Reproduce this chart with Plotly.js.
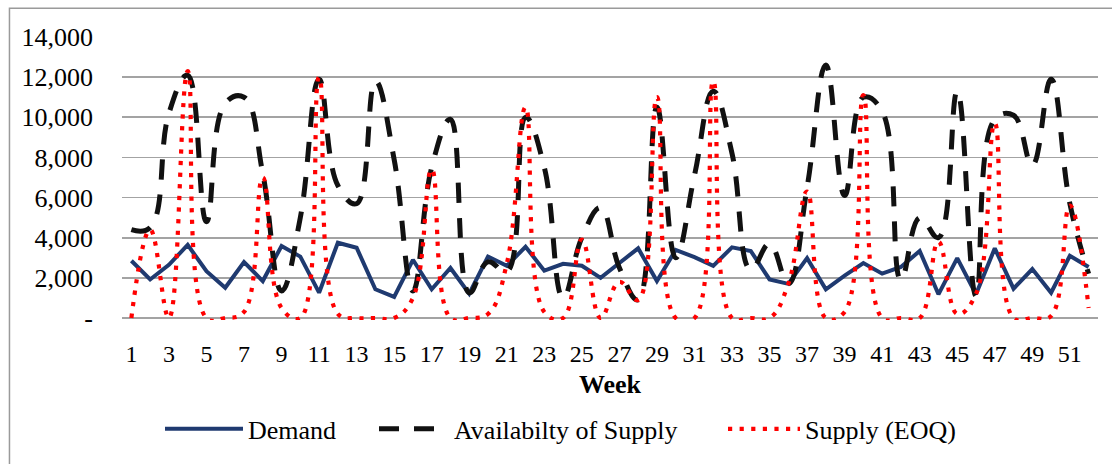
<!DOCTYPE html>
<html>
<head>
<meta charset="utf-8">
<script src="https://cdn.plot.ly/plotly-3.0.1.min.js"></script>
<style>
  html, body { margin: 0; padding: 0; background: #ffffff; }
  #chart { width: 1112px; height: 464px; }
</style>
</head>
<body>
<div id="chart"></div>
<script>
// Weekly demand vs. supply availability vs. EOQ supply
const weeks = [1, 2, 3, 4, 5, 6, 7, 8, 9, 10, 11, 12, 13, 14, 15, 16, 17, 18, 19, 20,
  21, 22, 23, 24, 25, 26, 27, 28, 29, 30, 31, 32, 33, 34, 35, 36, 37, 38, 39, 40,
  41, 42, 43, 44, 45, 46, 47, 48, 49, 50, 51, 52];

const demand = [2850, 1920, 2650, 3640, 2330, 1510, 2790, 1840, 3590, 3060,
  1260, 3750, 3500, 1430, 1050, 2900, 1430, 2490, 1210, 3060,
  2600, 3550, 2360, 2700, 2600, 2000, 2740, 3470, 1840, 3390,
  3030, 2600, 3520, 3340, 1920, 1700, 2980, 1430, 2110, 2740,
  2210, 2540, 3340, 1180, 2980, 1180, 3470, 1460, 2440, 1260,
  3100, 2540];

const availability = [4400, 4500, 10200, 12100, 4800, 10700, 11000, 7200, 1350, 5000,
  11900, 6600, 5700, 11800, 7900, 1350, 7500, 9900, 1260, 2800,
  2300, 10000, 7500, 1000, 4000, 5500, 2500, 900, 10500, 3000,
  7100, 11300, 8200, 2400, 3700, 1700, 6500, 12600, 6100, 11000,
  10300, 1900, 5000, 4000, 11300, 1100, 9900, 10100, 7600, 11900,
  5700, 2200];

const supplyEOQ = [0, 4400, 0, 12300, 0, 0, 300, 7000, 500, 0,
  12000, 200, 0, 0, 0, 1000, 7400, 0, 0, 200,
  2700, 10500, 300, 0, 3900, 0, 1800, 900, 11000, 0,
  0, 11800, 0, 0, 0, 1700, 6300, 0, 300, 11100,
  0, 0, 0, 3800, 200, 1200, 9700, 0, 0, 100,
  5600, 500];

const xTicks = [1, 3, 5, 7, 9, 11, 13, 15, 17, 19, 21, 23, 25, 27, 29, 31, 33, 35,
  37, 39, 41, 43, 45, 47, 49, 51];
const yTicks = [0, 2000, 4000, 6000, 8000, 10000, 12000, 14000];
const yTickText = ['-', '2,000', '4,000', '6,000', '8,000', '10,000', '12,000', '14,000'];

const serif = 'Liberation Serif';

const traces = [
  {
    x: weeks, y: demand, name: 'Demand', type: 'scatter', mode: 'lines',
    legend: 'legend',
    line: { color: '#1f3a70', width: 4 }
  },
  {
    x: weeks, y: availability, name: 'Availabilty of Supply', type: 'scatter', mode: 'lines',
    legend: 'legend2',
    line: { color: '#111111', width: 5, dash: '20px,15px', shape: 'spline', smoothing: 1.2 }
  },
  {
    x: weeks, y: supplyEOQ, name: 'Supply (EOQ)', type: 'scatter', mode: 'lines',
    legend: 'legend3',
    line: { color: '#ff0000', width: 4.2, dash: '4.2px,7.4px', shape: 'spline', smoothing: 1.2 }
  }
];

// one legend box per series so each entry sits at its own spot
const legendBase = {
  orientation: 'h',
  xanchor: 'left',
  y: -0.385,
  yanchor: 'middle',
  font: { family: serif, size: 26, color: '#000000' },
  bgcolor: 'rgba(0,0,0,0)',
  borderwidth: 0
};

const layout = {
  width: 1112,
  height: 464,
  margin: { l: 122, r: 14, t: 37, b: 140 },
  paper_bgcolor: '#ffffff',
  plot_bgcolor: 'rgba(0,0,0,0)',
  font: { family: serif, size: 24, color: '#000000' },
  showlegend: true,
  xaxis: {
    range: [0.5, 52.5],
    tickmode: 'array',
    tickvals: xTicks,
    ticktext: xTicks.map(String),
    showgrid: false,
    zeroline: false,
    showline: false,
    ticks: '',
    ticklabelstandoff: 17,
    tickfont: { family: serif, size: 24, color: '#000000' },
    title: { text: '<b>Week</b>', font: { family: serif, size: 26, color: '#000000' }, standoff: 8 },
    fixedrange: true
  },
  yaxis: {
    range: [-100, 14000],
    tickmode: 'array',
    tickvals: yTicks,
    ticktext: yTickText,
    showgrid: true,
    gridcolor: '#a3a3a3',
    gridwidth: 1.6,
    zeroline: false,
    showline: false,
    ticks: '',
    ticklabelstandoff: 28,
    tickfont: { family: serif, size: 26, color: '#000000' },
    fixedrange: true
  },
  legend: Object.assign({}, legendBase, { x: (160 - 122) / 976, itemwidth: 78 }),
  legend2: Object.assign({}, legendBase, { x: (374 - 122) / 976, itemwidth: 70 }),
  legend3: Object.assign({}, legendBase, { x: (723 - 122) / 976, itemwidth: 72 }),
  shapes: [
    {
      type: 'rect', xref: 'paper', yref: 'paper',
      x0: -0.1153, x1: 1.2, y0: -1.0, y1: 1.1015,
      line: { color: '#9a9a9a', width: 1.5 },
      fillcolor: 'rgba(0,0,0,0)', layer: 'below'
    }
  ]
};

Plotly.newPlot('chart', traces, layout, { displayModeBar: false, staticPlot: true });
</script>
</body>
</html>
